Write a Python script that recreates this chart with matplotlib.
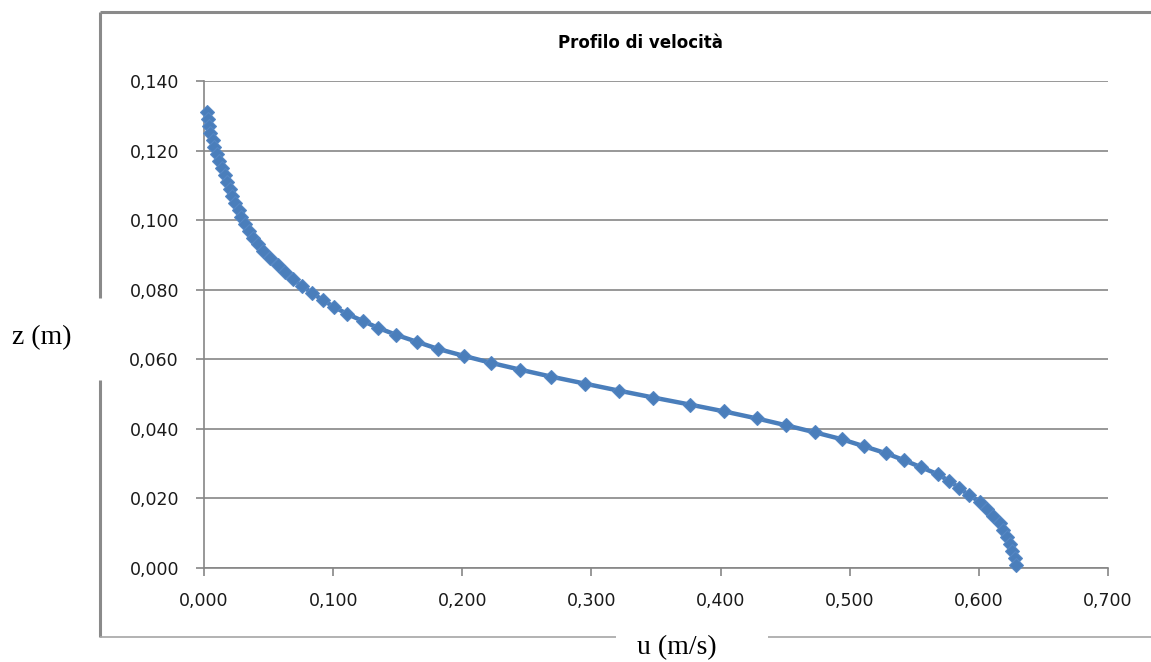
import matplotlib
matplotlib.use("Agg")
import matplotlib.pyplot as plt
from matplotlib.lines import Line2D
from matplotlib.ticker import FuncFormatter, MultipleLocator

# Data
z_values = [0.131, 0.129, 0.127, 0.125, 0.123, 0.121, 0.119, 0.117, 0.115, 0.113,
            0.111, 0.109, 0.107, 0.105, 0.103, 0.101, 0.099, 0.097, 0.095, 0.093,
            0.091, 0.089, 0.087, 0.085, 0.083, 0.081, 0.079, 0.077, 0.075, 0.073,
            0.071, 0.069, 0.067, 0.065, 0.063, 0.061, 0.059, 0.057, 0.055, 0.053,
            0.051, 0.049, 0.047, 0.045, 0.043, 0.041, 0.039, 0.037, 0.035, 0.033,
            0.031, 0.029, 0.027, 0.025, 0.023, 0.021, 0.019, 0.017, 0.015, 0.013,
            0.011, 0.009, 0.007, 0.005, 0.003, 0.001]
u_values = [0.002, 0.003, 0.004, 0.005, 0.007, 0.008, 0.010, 0.012, 0.014, 0.016,
            0.018, 0.020, 0.022, 0.024, 0.027, 0.029, 0.032, 0.035, 0.038, 0.042,
            0.046, 0.051, 0.057, 0.063, 0.069, 0.076, 0.084, 0.092, 0.101, 0.111,
            0.123, 0.135, 0.149, 0.165, 0.181, 0.201, 0.222, 0.245, 0.269, 0.295,
            0.321, 0.348, 0.376, 0.403, 0.428, 0.451, 0.473, 0.494, 0.511, 0.528,
            0.542, 0.555, 0.568, 0.577, 0.585, 0.592, 0.601, 0.606, 0.611, 0.616,
            0.619, 0.622, 0.624, 0.626, 0.628, 0.629]

title = "Profilo di velocità"
x_label = "u (m/s)"
y_label = "z (m)"

W, H = 1151, 662
fig = plt.figure(figsize=(W / 100, H / 100), dpi=100)
fig.patch.set_facecolor("white")

ax = fig.add_axes([204 / W, (H - 568) / H, (1108 - 204) / W, (568 - 81) / H])
ax.plot(u_values, z_values, color="#4A7EBB", lw=3.2, marker="D", ms=7.6,
        markerfacecolor="#4A7EBB", markeredgecolor="#5587C4", markeredgewidth=0.8,
        zorder=3, clip_on=False)

ax.set_xlim(0, 0.7)
ax.set_ylim(0, 0.14)
ax.xaxis.set_major_locator(MultipleLocator(0.1))
ax.yaxis.set_major_locator(MultipleLocator(0.02))
fmt = FuncFormatter(lambda v, p: f"{v:.3f}".replace(".", ","))
ax.xaxis.set_major_formatter(fmt)
ax.yaxis.set_major_formatter(fmt)

grid_col = "#868686"
ax.yaxis.grid(True, color=grid_col, lw=1.2)
ax.xaxis.grid(False)
ax.set_axisbelow(True)
for s in ["top", "right"]:
    ax.spines[s].set_visible(False)
for s in ["left", "bottom"]:
    ax.spines[s].set_color(grid_col)
    ax.spines[s].set_linewidth(1.2)
ax.tick_params(axis="both", direction="out", length=6, width=1.2, color=grid_col,
               labelsize=12.5, labelcolor="#1a1a1a")
ax.tick_params(axis="x", pad=11)
ax.tick_params(axis="y", pad=12)

fig.text(640 / W, 1 - 43 / H, title, ha="center", va="center",
         fontsize=12, fontweight="bold", family="DejaVu Sans")
fig.text(42 / W, 1 - 338 / H, y_label, ha="center", va="center",
         fontsize=20, family="Liberation Serif")
fig.text(677 / W, 1 - 648 / H, x_label, ha="center", va="center",
         fontsize=20, family="Liberation Serif")

# Outer chart frame (partially hidden behind axis titles)
def fline(x0, y0, x1, y1, color, lw):
    fig.add_artist(Line2D([x0 / W, x1 / W], [1 - y0 / H, 1 - y1 / H],
                          transform=fig.transFigure, color=color, lw=lw,
                          solid_capstyle="butt"))

fline(100, 12, W, 12, "#8a8a8a", 2.2)
fline(100, 12, 100, 298, "#8a8a8a", 2.2)
fline(100, 380, 100, 637, "#8a8a8a", 2.2)
fline(100, 637, 616, 637, "#a6a6a6", 1.2)
fline(768, 637, W, 637, "#a6a6a6", 1.2)

fig.savefig("out.png", dpi=100, facecolor="white")
